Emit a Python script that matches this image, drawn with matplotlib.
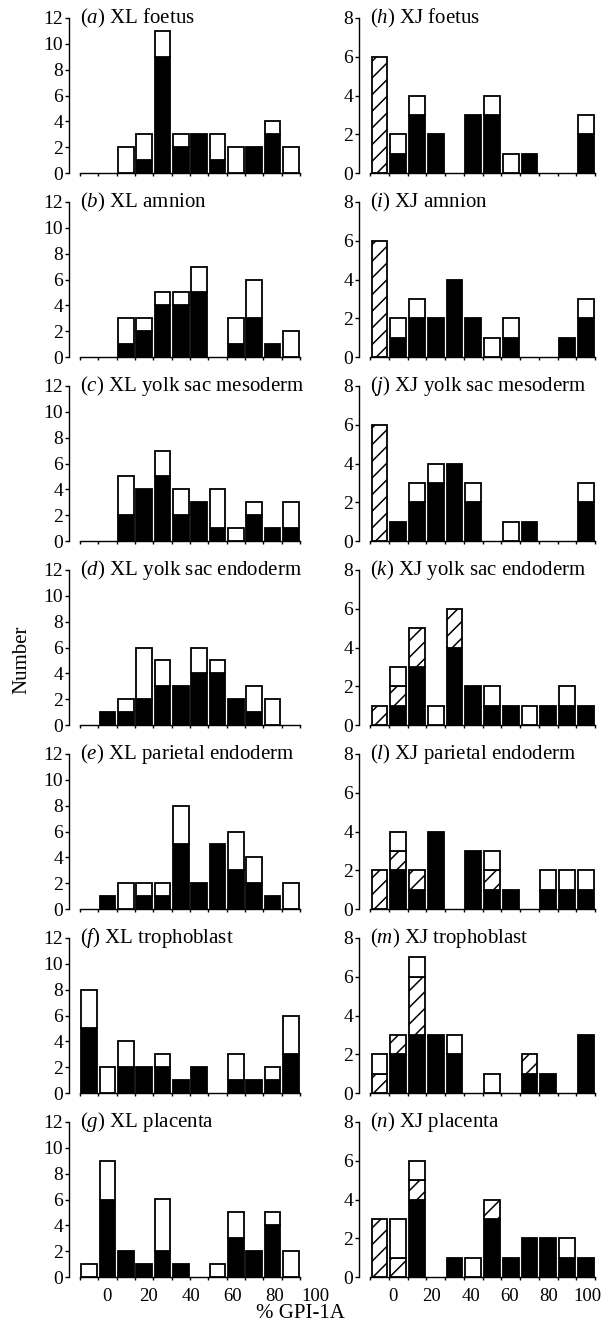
import numpy as np
import matplotlib
matplotlib.use("Agg")
import matplotlib.pyplot as plt

plt.rcParams['font.family'] = ['Liberation Serif', 'DejaVu Serif']
plt.rcParams['mathtext.fontset'] = 'custom'
plt.rcParams['mathtext.rm'] = 'Liberation Serif'
plt.rcParams['mathtext.it'] = 'Liberation Serif:italic'
plt.rcParams['hatch.linewidth'] = 1.1

# 12 classes of % GPI-1A, one bar per class
slots = np.arange(12)
xtick_labels = ['0', '20', '40', '60', '80', '100']

# XL chimaeras: black part, white part on top
xl_foetus_black = [0, 0, 0, 1, 9, 2, 3, 1, 0, 2, 3, 0]
xl_foetus_white = [0, 0, 2, 2, 2, 1, 0, 2, 2, 0, 1, 2]
xl_amnion_black = [0, 0, 1, 2, 4, 4, 5, 0, 1, 3, 1, 0]
xl_amnion_white = [0, 0, 2, 1, 1, 1, 2, 0, 2, 3, 0, 2]
xl_ysmes_black = [0, 0, 2, 4, 5, 2, 3, 1, 0, 2, 1, 1]
xl_ysmes_white = [0, 0, 3, 0, 2, 2, 0, 3, 1, 1, 0, 2]
xl_ysend_black = [0, 1, 1, 2, 3, 3, 4, 4, 2, 1, 0, 0]
xl_ysend_white = [0, 0, 1, 4, 2, 0, 2, 1, 0, 2, 2, 0]
xl_parend_black = [0, 1, 0, 1, 1, 5, 2, 5, 3, 2, 1, 0]
xl_parend_white = [0, 0, 2, 1, 1, 3, 0, 0, 3, 2, 0, 2]
xl_troph_black = [5, 0, 2, 2, 2, 1, 2, 0, 1, 1, 1, 3]
xl_troph_white = [3, 2, 2, 0, 1, 0, 0, 0, 2, 0, 1, 3]
xl_plac_black = [0, 6, 2, 1, 2, 1, 0, 0, 3, 2, 4, 0]
xl_plac_white = [1, 3, 0, 0, 4, 0, 0, 1, 2, 0, 1, 2]

# XJ chimaeras: black, hatched, white
xj_foetus_black = [0, 1, 3, 2, 0, 3, 3, 0, 1, 0, 0, 2]
xj_foetus_hatch = [6, 0, 0, 0, 0, 0, 0, 0, 0, 0, 0, 0]
xj_foetus_white = [0, 1, 1, 0, 0, 0, 1, 1, 0, 0, 0, 1]
xj_amnion_black = [0, 1, 2, 2, 4, 2, 0, 1, 0, 0, 1, 2]
xj_amnion_hatch = [6, 0, 0, 0, 0, 0, 0, 0, 0, 0, 0, 0]
xj_amnion_white = [0, 1, 1, 0, 0, 0, 1, 1, 0, 0, 0, 1]
xj_ysmes_black = [0, 1, 2, 3, 4, 2, 0, 0, 1, 0, 0, 2]
xj_ysmes_hatch = [6, 0, 0, 0, 0, 0, 0, 0, 0, 0, 0, 0]
xj_ysmes_white = [0, 0, 1, 1, 0, 1, 0, 1, 0, 0, 0, 1]
xj_ysend_black = [0, 1, 3, 0, 4, 2, 1, 1, 0, 1, 1, 1]
xj_ysend_hatch = [1, 1, 2, 0, 2, 0, 0, 0, 0, 0, 0, 0]
xj_ysend_white = [0, 1, 0, 1, 0, 0, 1, 0, 1, 0, 1, 0]
xj_parend_black = [0, 2, 1, 4, 0, 3, 1, 1, 0, 1, 1, 1]
xj_parend_hatch = [2, 1, 1, 0, 0, 0, 1, 0, 0, 0, 0, 0]
xj_parend_white = [0, 1, 0, 0, 0, 0, 1, 0, 0, 1, 1, 1]
xj_troph_black = [0, 2, 3, 3, 2, 0, 0, 0, 1, 1, 0, 3]
xj_troph_hatch = [1, 1, 3, 0, 0, 0, 0, 0, 1, 0, 0, 0]
xj_troph_white = [1, 0, 1, 0, 1, 0, 1, 0, 0, 0, 0, 0]
xj_plac_black = [0, 0, 4, 0, 1, 0, 3, 1, 2, 2, 1, 1]
xj_plac_hatch = [3, 1, 1, 0, 0, 0, 1, 0, 0, 0, 0, 0]
xj_plac_white = [0, 2, 1, 0, 0, 1, 0, 0, 0, 0, 1, 0]

zeros = [0] * 12
left_panels = [
    ('a', 'XL foetus', xl_foetus_black, zeros, xl_foetus_white),
    ('b', 'XL amnion', xl_amnion_black, zeros, xl_amnion_white),
    ('c', 'XL yolk sac mesoderm', xl_ysmes_black, zeros, xl_ysmes_white),
    ('d', 'XL yolk sac endoderm', xl_ysend_black, zeros, xl_ysend_white),
    ('e', 'XL parietal endoderm', xl_parend_black, zeros, xl_parend_white),
    ('f', 'XL trophoblast', xl_troph_black, zeros, xl_troph_white),
    ('g', 'XL placenta', xl_plac_black, zeros, xl_plac_white),
]
right_panels = [
    ('h', 'XJ foetus', xj_foetus_black, xj_foetus_hatch, xj_foetus_white),
    ('i', 'XJ amnion', xj_amnion_black, xj_amnion_hatch, xj_amnion_white),
    ('j', 'XJ yolk sac mesoderm', xj_ysmes_black, xj_ysmes_hatch, xj_ysmes_white),
    ('k', 'XJ yolk sac endoderm', xj_ysend_black, xj_ysend_hatch, xj_ysend_white),
    ('l', 'XJ parietal endoderm', xj_parend_black, xj_parend_hatch, xj_parend_white),
    ('m', 'XJ trophoblast', xj_troph_black, xj_troph_hatch, xj_troph_white),
    ('n', 'XJ placenta', xj_plac_black, xj_plac_hatch, xj_plac_white),
]

W, H = 603, 1327
fig = plt.figure(figsize=(W / 100, H / 100), dpi=100)


def draw_panel(ax, letter, name, black, hatch, white, ymax, labels=None):
    black = np.array(black)
    hatch = np.array(hatch)
    white = np.array(white)
    kw = dict(width=0.84, edgecolor='black', linewidth=1.3)
    m = black > 0
    ax.bar(slots[m], black[m], color='black', **kw)
    m = hatch > 0
    ax.bar(slots[m], hatch[m], bottom=black[m], color='white', hatch='//', **kw)
    m = white > 0
    ax.bar(slots[m], white[m], bottom=(black + hatch)[m], color='white', **kw)

    ax.set_xlim(-0.5, 11.5)
    ax.set_ylim(0, ymax)
    ax.set_yticks(np.arange(0, ymax + 1, 2))
    for s in ['top', 'right']:
        ax.spines[s].set_visible(False)
    ax.spines['left'].set_position(('outward', 8))
    ax.spines['left'].set_linewidth(1.0)
    ax.spines['bottom'].set_linewidth(1.0)
    ax.tick_params(axis='y', direction='out', length=3, width=1.0,
                   labelsize=14, pad=1)
    ax.set_xticks(np.arange(-0.5, 12, 1), minor=True)
    ax.tick_params(axis='x', which='minor', direction='out', length=2.5, width=1.0)
    ax.set_xticks([])
    if labels is not None:
        start, step = labels
        for k, lab in enumerate(xtick_labels):
            ax.text(start + k * step, -0.07, lab, transform=ax.get_xaxis_transform(),
                    ha='center', va='top', fontsize=13.5, clip_on=False)
    ax.text(0.0, 1.0, r'($\mathit{%s}$) %s' % (letter, name), transform=ax.transAxes,
            fontsize=15, ha='left', va='center')


ax_h = 155 / H
for i in range(7):
    bottom = 1 - (173 + 184 * i) / H
    last = i == 6
    axl = fig.add_axes([80 / W, bottom, 220 / W, ax_h])
    draw_panel(axl, *left_panels[i], 12, (0.97, 2.28) if last else None)
    axr = fig.add_axes([370 / W, bottom, 225 / W, ax_h])
    draw_panel(axr, *right_panels[i], 8, (0.7, 2.08) if last else None)

fig.text(22 / W, 1 - 660 / H, 'Number', rotation=90, ha='center', va='center', fontsize=15)
fig.text(300 / W, 1 - 1313 / H, '% GPI-1A', ha='center', va='center', fontsize=15)

fig.savefig('out.png', dpi=100)
